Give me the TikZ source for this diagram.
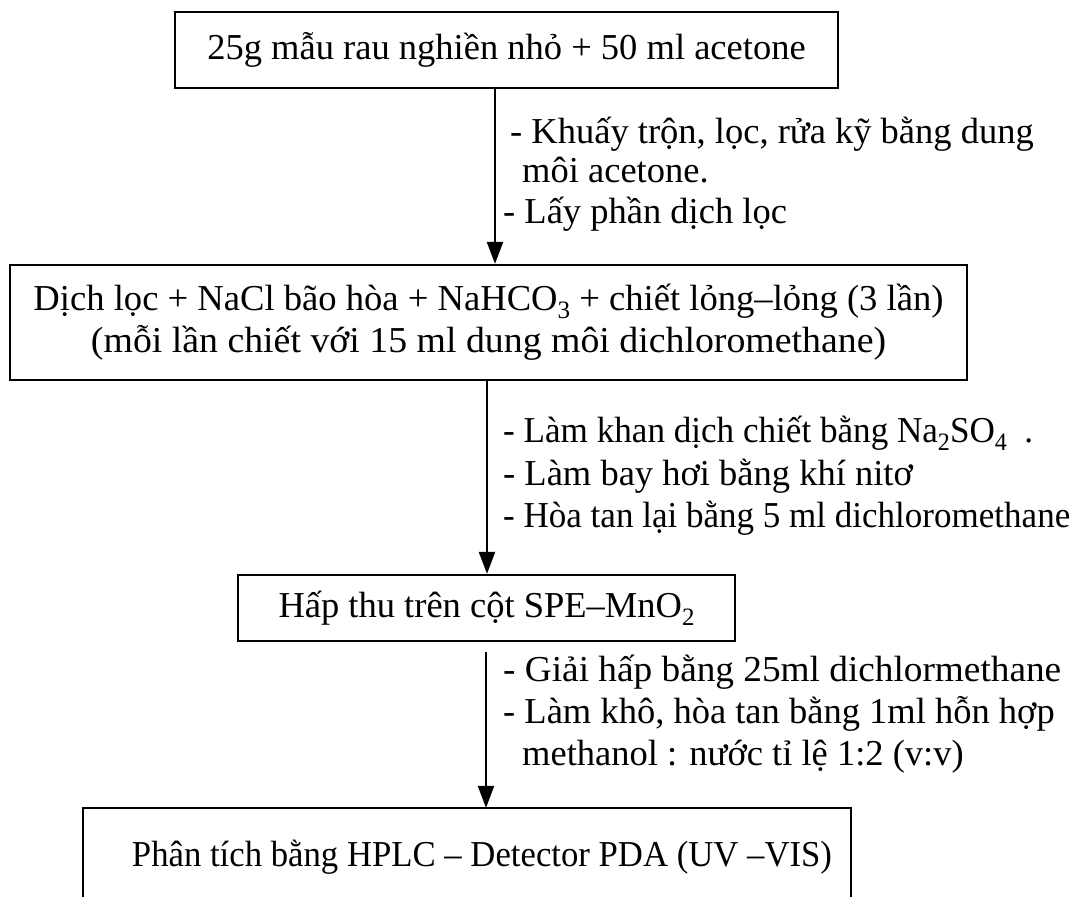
\documentclass[tikz,border=0pt]{standalone}
\usepackage{fontspec}
\setmainfont{Liberation Serif}
\usetikzlibrary{arrows.meta}
\newcommand{\chemsub}[1]{\raisebox{-0.22em}{\fontsize{25}{25}\selectfont #1}}
\newcommand{\fitw}[2]{\resizebox{#1}{\height}{#2}}
\begin{document}
\begin{tikzpicture}[x=1pt,y=-1pt,
  every node/.style={font=\fontsize{36.5}{42}\selectfont},
  box/.style={draw, line width=2.3pt, inner sep=0pt, align=center},
  onebox/.style={box, text height=27pt, text depth=9pt},
  lbl/.style={anchor=base west, inner sep=0pt},
  arr/.style={line width=2.3pt, -{Triangle[width=16pt,length=22pt]}}]
\useasboundingbox (0,0) rectangle (1074,897);
% boxes
\node[onebox, minimum width=663pt, minimum height=76pt] (b1) at (506.5,50) {25g mẫu rau nghiền nhỏ + 50 ml acetone};
\node[box, minimum width=957pt, minimum height=115pt] (b2) at (488.5,322.5) {\fitw{910pt}{Dịch lọc + NaCl bão hòa + NaHCO\chemsub{3} + chiết lỏng–lỏng (3 lần)}\\[0pt]\fitw{795pt}{(mỗi lần chiết với 15 ml dung môi dichloromethane)}};
\node[onebox, minimum width=497pt, minimum height=66pt] (b3) at (486.5,608) {Hấp thu trên cột SPE–MnO\chemsub{2}};
\node[onebox, draw=none, minimum width=766pt, minimum height=92pt] (b4) at (467,855) {};
\node[anchor=base, inner sep=0pt] (t4) at (482,866) {\fitw{700pt}{Phân tích bằng HPLC – Detector PDA (UV –VIS)}};
\draw[line width=2.3pt] ([yshift=-30pt]b4.south west) -- (b4.north west) -- (b4.north east) -- ([yshift=-30pt]b4.south east);
% arrow positions
\coordinate (x1) at (495,0);
\coordinate (x2) at (487,0);
\coordinate (x3) at (486,0);
\draw[arr] (b1.south -| x1) -- (b2.north -| x1);
\draw[arr] (b2.south -| x2) -- (b3.north -| x2);
\draw[arr] ([yshift=-10pt]b3.south -| x3) -- (b4.north -| x3);
% labels
\node[lbl] (l1a) at (510,143) {- Khuấy trộn, lọc, rửa kỹ bằng dung};
\node[lbl] (l1b) at (522,182) {môi acetone.};
\node[lbl] (l1c) at (503,223) {- Lấy phần dịch lọc};
\node[lbl] (l2a) at (503,442) {\fitw{530pt}{- Làm khan dịch chiết bằng Na\chemsub{2}SO\chemsub{4}\ \ .}};
\node[lbl] (l2b) at (503,485) {- Làm bay hơi bằng khí nitơ};
\node[lbl] (l2c) at (503,527) {\fitw{567pt}{- Hòa tan lại bằng 5 ml dichloromethane}};
\node[lbl] (l3a) at (503,681) {\fitw{558pt}{- Giải hấp bằng 25ml dichlormethane}};
\node[lbl] (l3b) at (503,723) {- Làm khô, hòa tan bằng 1ml hỗn hợp};
\node[lbl] (l3c) at (522,765) {methanol : nước tỉ lệ 1:2 (v:v)};
\end{tikzpicture}
\end{document}
